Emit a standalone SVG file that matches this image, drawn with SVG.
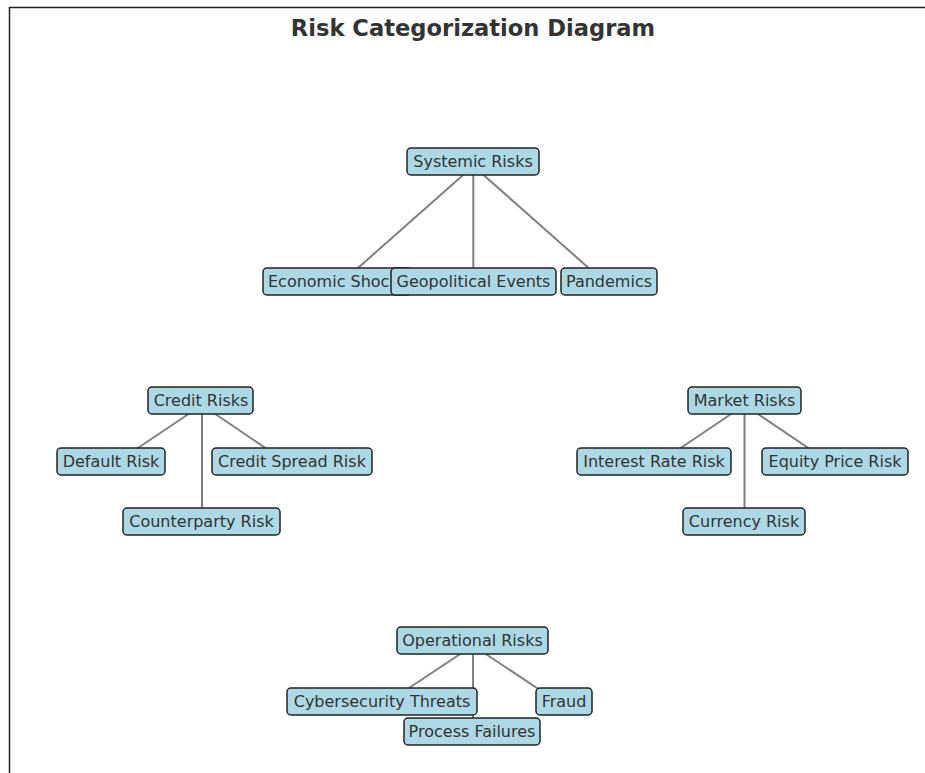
<svg xmlns="http://www.w3.org/2000/svg" width="925" height="773" viewBox="0 0 925 773">
<style>
.frame{fill:none;stroke:#222;stroke-width:1.5}
.title{font-family:"DejaVu Sans",sans-serif;font-weight:bold;font-size:22.6px;fill:#333;text-anchor:middle}
.edge{stroke:#808080;stroke-width:2;fill:none}
.box{fill:#add8e6;stroke:#222;stroke-width:1.5}
.lbl{font-family:"DejaVu Sans",sans-serif;font-size:16px;fill:#333;text-anchor:middle}
</style>
<rect width="925" height="773" fill="#fff"/>
<path class="frame" d="M9.5,773 V7.5 H925"/>
<text class="title" x="473" y="36">Risk Categorization Diagram</text>
<g id="connectors">
<line class="edge" x1="473.3" y1="166" x2="337.6" y2="286"/>
<line class="edge" x1="473.3" y1="166" x2="473.3" y2="286"/>
<line class="edge" x1="473.3" y1="166" x2="609" y2="286"/>
<line class="edge" x1="202" y1="405" x2="111" y2="466"/>
<line class="edge" x1="202" y1="405" x2="292" y2="466"/>
<line class="edge" x1="202" y1="405" x2="202" y2="526"/>
<line class="edge" x1="744.5" y1="405" x2="654" y2="466"/>
<line class="edge" x1="744.5" y1="405" x2="835" y2="466"/>
<line class="edge" x1="744.5" y1="405" x2="744.5" y2="526"/>
<line class="edge" x1="473" y1="645.5" x2="382" y2="706"/>
<line class="edge" x1="473" y1="645.5" x2="564" y2="706"/>
<line class="edge" x1="473" y1="645.5" x2="473" y2="736"/>
</g>
<g id="systemic"><rect class="box" x="407" y="148" width="132" height="27" rx="4"/><text class="lbl" x="473" y="167">Systemic Risks</text></g>
<g id="economic"><rect class="box" x="263" y="268" width="149" height="27" rx="4"/><text class="lbl" x="337.5" y="287">Economic Shocks</text></g>
<g id="geopolitical"><rect class="box" x="391" y="268" width="165" height="27" rx="4"/><text class="lbl" x="473.5" y="287">Geopolitical Events</text></g>
<g id="pandemics"><rect class="box" x="561" y="268" width="96" height="27" rx="4"/><text class="lbl" x="609" y="287">Pandemics</text></g>
<g id="credit"><rect class="box" x="148" y="387" width="105" height="27" rx="4"/><text class="lbl" x="201" y="406">Credit Risks</text></g>
<g id="default"><rect class="box" x="57" y="448" width="108" height="27" rx="4"/><text class="lbl" x="111" y="467">Default Risk</text></g>
<g id="spread"><rect class="box" x="212" y="448" width="160" height="27" rx="4"/><text class="lbl" x="292" y="467">Credit Spread Risk</text></g>
<g id="counterparty"><rect class="box" x="123" y="508" width="157" height="27" rx="4"/><text class="lbl" x="201.5" y="527">Counterparty Risk</text></g>
<g id="market"><rect class="box" x="688" y="387" width="113" height="27" rx="4"/><text class="lbl" x="744.5" y="406">Market Risks</text></g>
<g id="interest"><rect class="box" x="577" y="448" width="154" height="27" rx="4"/><text class="lbl" x="654" y="467">Interest Rate Risk</text></g>
<g id="equity"><rect class="box" x="762" y="448" width="146" height="27" rx="4"/><text class="lbl" x="835" y="467">Equity Price Risk</text></g>
<g id="currency"><rect class="box" x="683" y="508" width="122" height="27" rx="4"/><text class="lbl" x="744" y="527">Currency Risk</text></g>
<g id="operational"><rect class="box" x="397" y="627" width="151" height="27" rx="4"/><text class="lbl" x="472.5" y="646">Operational Risks</text></g>
<g id="cyber"><rect class="box" x="287" y="688" width="190" height="27" rx="4"/><text class="lbl" x="382" y="707">Cybersecurity Threats</text></g>
<g id="fraud"><rect class="box" x="536" y="688" width="56" height="27" rx="4"/><text class="lbl" x="564" y="707">Fraud</text></g>
<g id="process"><rect class="box" x="404" y="718" width="136" height="27" rx="4"/><text class="lbl" x="472" y="737">Process Failures</text></g>
</svg>
